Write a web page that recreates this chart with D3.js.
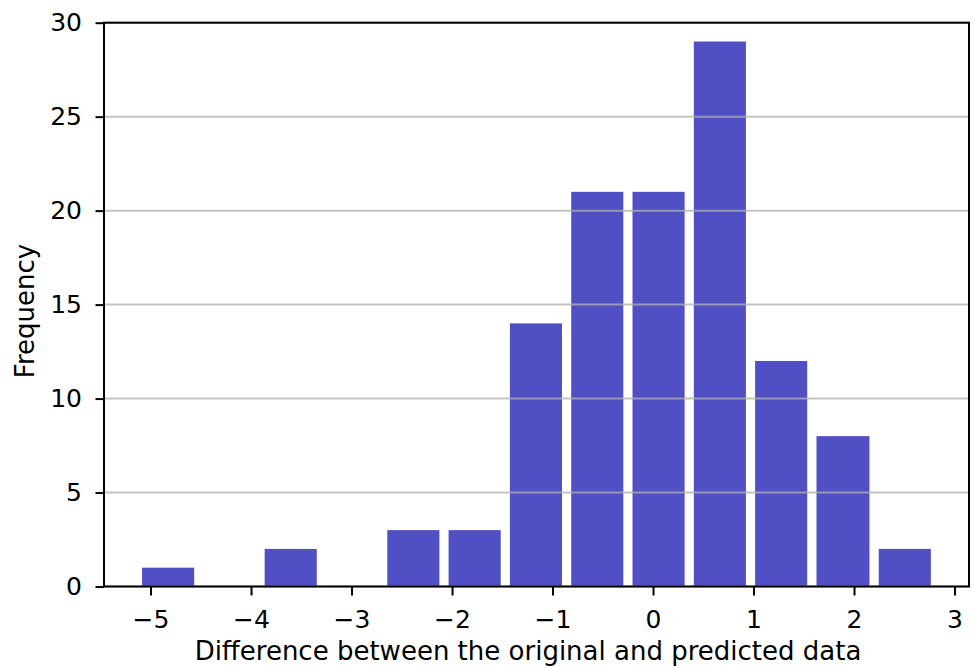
<!DOCTYPE html>
<html>
<head>
<meta charset="utf-8">
<script src="https://cdn.jsdelivr.net/npm/d3@7"></script>
<style>
  body { margin: 0; background: #fff; }
  text { font-family: "DejaVu Sans", sans-serif; }
</style>
</head>
<body>
<svg></svg>
<script>

// histogram bins (edges) and counts
var binEdges = [-5.13, -4.52, -3.91, -3.30, -2.69, -2.08, -1.47, -0.86, -0.25, 0.36, 0.97, 1.58, 2.20, 2.81];
var counts = [1, 0, 2, 0, 3, 3, 14, 21, 21, 29, 12, 8, 2];
var xTicks = [-5, -4, -3, -2, -1, 0, 1, 2, 3];
var yTicks = [0, 5, 10, 15, 20, 25, 30];

var svgWidth = 975;
var svgHeight = 666;
var rwidth = 0.85;

var plotLeft = 104, plotRight = 969, plotTop = 22.7, plotBottom = 586.5;

var svg = d3.select('svg')
    .attr("width", svgWidth)
    .attr("height", svgHeight);

var xScale = d3.scaleLinear()
    .domain([-5.463, 3.144])
    .range([plotLeft, plotRight]);

var yScale = d3.scaleLinear()
    .domain([0, 30])
    .range([plotBottom, plotTop]);

var bins = counts.map(function(c, i) {
    return { x0: binEdges[i], x1: binEdges[i + 1], count: c };
});

// bars
svg.append("g")
    .selectAll("rect")
    .data(bins)
    .enter()
    .append("rect")
    .attr("x", function(d) {
        var w = (d.x1 - d.x0) * rwidth;
        return xScale((d.x0 + d.x1) / 2 - w / 2);
    })
    .attr("width", function(d) {
        var w = (d.x1 - d.x0) * rwidth;
        return xScale((d.x0 + d.x1) / 2 + w / 2) - xScale((d.x0 + d.x1) / 2 - w / 2);
    })
    .attr("y", function(d) { return yScale(d.count); })
    .attr("height", function(d) { return yScale(0) - yScale(d.count); })
    .attr("fill", "#0504aa")
    .attr("fill-opacity", 0.7);

// y grid, drawn above bars like matplotlib
svg.append("g")
    .selectAll("line")
    .data(yTicks)
    .enter()
    .append("line")
    .attr("x1", plotLeft)
    .attr("x2", plotRight)
    .attr("y1", function(d) { return yScale(d); })
    .attr("y2", function(d) { return yScale(d); })
    .attr("stroke", "#b0b0b0")
    .attr("stroke-opacity", 0.75)
    .attr("stroke-width", 2);

var xAxis = d3.axisBottom(xScale)
    .tickValues(xTicks)
    .tickFormat(d3.format("d"))
    .tickSize(9)
    .tickSizeOuter(0)
    .tickPadding(15);

var yAxis = d3.axisLeft(yScale)
    .tickValues(yTicks)
    .tickFormat(d3.format("d"))
    .tickSize(8.5)
    .tickSizeOuter(0)
    .tickPadding(13.5);

var gx = svg.append("g")
    .attr("transform", "translate(0," + plotBottom + ")")
    .call(xAxis);

var gy = svg.append("g")
    .attr("transform", "translate(" + plotLeft + ",0)")
    .call(yAxis);

[gx, gy].forEach(function(g) {
    g.select(".domain").remove();
    g.selectAll(".tick line").attr("stroke", "#000").attr("stroke-width", 2);
    g.selectAll(".tick text")
        .attr("fill", "#000")
        .style("font-size", "25px");
});

// frame
svg.append("rect")
    .attr("x", plotLeft)
    .attr("y", plotTop)
    .attr("width", plotRight - plotLeft)
    .attr("height", plotBottom - plotTop)
    .attr("fill", "none")
    .attr("stroke", "#000")
    .attr("stroke-width", 2);

// axis labels
svg.append("text")
    .attr("x", 528)
    .attr("y", 660)
    .attr("text-anchor", "middle")
    .style("font-size", "26px")
    .attr("fill", "#000")
    .text("Difference between the original and predicted data");

svg.append("text")
    .attr("transform", "translate(33.5,311) rotate(-90)")
    .attr("text-anchor", "middle")
    .style("font-size", "26px")
    .attr("fill", "#000")
    .text("Frequency");

</script>
</body>
</html>
